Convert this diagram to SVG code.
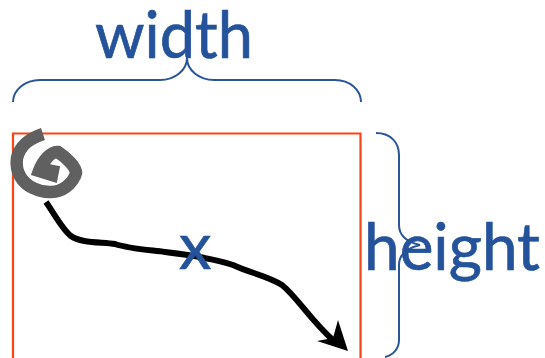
<svg xmlns="http://www.w3.org/2000/svg" width="545" height="358" viewBox="0 0 545 358">
<style>
.lbl{font-family:"Lato","Noto Sans",sans-serif;font-size:65px;fill:#24539b;stroke:#24539b;stroke-width:.7}
.brace{fill:none;stroke:#2a5599;stroke-width:2}
</style>
<rect width="545" height="358" fill="#fff"/>
<g id="frame"><path d="M13 358V133.500H360.500V358" fill="none" stroke="#fb4416" stroke-width="2.200"/></g>
<g id="connectors">
<path id="spiral" d="M43 134C28 139 20 146 17 158C15 172 22 183 33 188C45 194 58 193 66 187C70 184 75 178 76 173C76 167 67 158 58 152C52 151 43 160 39 171L52 175L54 165" fill="none" stroke="#606060" stroke-width="12.500" stroke-linejoin="miter"/>
<path id="path-line" d="M46 202C55 215 63 230 71 236C80 243 100 242 115 244C130 249 150 250 165 252C190 255 215 259 233 265C250 273 268 276 282 285C298 298 310 320 335 342" fill="none" stroke="#000" stroke-width="6"/>
<polygon id="arrowhead" points="348,351 317,341 333,338 338,320"/>
<path id="width-brace" class="brace" d="M13 102C13 90 25 80 40 80H160C175 80 187 70 187 58C187 70 199 80 214 80H335C350 80 361 90 361 102"/>
<path id="height-brace" class="brace" d="M376 133C390 133 399 142 399 155V225C399 236 407 242 420 245C407 248 399 254 399 265V340C399 349 393 355 385 357"/>
</g>
<g id="label-width"><text class="lbl" x="95" y="58" textLength="158" lengthAdjust="spacingAndGlyphs">width</text></g>
<g id="label-x"><text class="lbl" x="179" y="269">x</text></g>
<g id="label-height"><text class="lbl" x="364" y="270" textLength="176" lengthAdjust="spacingAndGlyphs">height</text></g>
</svg>
